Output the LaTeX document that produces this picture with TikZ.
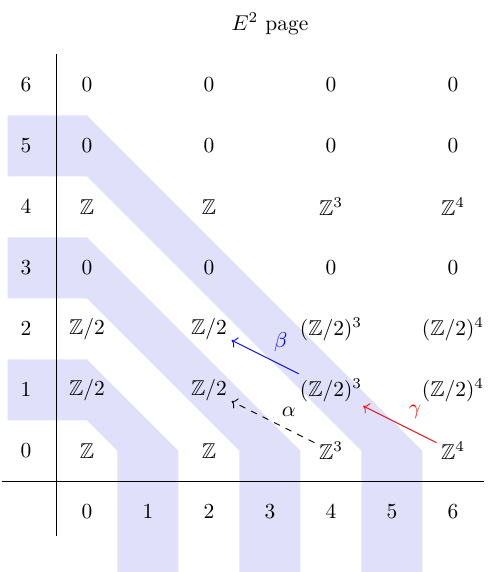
\documentclass[tikz,border=0pt]{standalone}
\usepackage{amssymb}
\usetikzlibrary{arrows.meta}
\definecolor{BandBlue}{RGB}{224,224,250}
\tikzset{
  entry/.style={inner sep=2pt},
  axislabel/.style={inner sep=2pt},
  band/.style={fill=BandBlue,draw=none},
  diff/.style={->,thin},
  difflabel/.style={above right,inner sep=2.5pt,xshift=1.5pt}
}

\begin{document}
\begin{tikzpicture}
  \useasboundingbox (-1.426,-1.984) rectangle (6.59,7.393);
  % shaded bands
  \foreach \r in {1,3,5}
    \fill[band] (-1.3,\r+0.5) -- (0,\r+0.5) -- (\r+0.5,0) -- (\r+0.5,-2)
      -- (\r-0.5,-2) -- (\r-0.5,0) -- (0,\r-0.5) -- (-1.3,\r-0.5) -- cycle;
  % axes
  \draw (-0.5,-1.4) -- (-0.5,6.5);
  \draw (-1.4,-0.5) -- (6.5,-0.5);
  \foreach \i in {0,...,6} {
    \node[axislabel] (row\i) at (-1,\i) {$\i$};
    \node[axislabel] (col\i) at (\i,-1) {$\i$};
  }
  \node (title) at (3,7) {$E^2$ page};
  % row 6
  \node[entry] (e06) at (0,6) {$0$};
  \node[entry] (e26) at (2,6) {$0$};
  \node[entry] (e46) at (4,6) {$0$};
  \node[entry] (e66) at (6,6) {$0$};
  % row 5
  \node[entry] (e05) at (0,5) {$0$};
  \node[entry] (e25) at (2,5) {$0$};
  \node[entry] (e45) at (4,5) {$0$};
  \node[entry] (e65) at (6,5) {$0$};
  % row 4
  \node[entry] (e04) at (0,4) {$\mathbb{Z}$};
  \node[entry] (e24) at (2,4) {$\mathbb{Z}$};
  \node[entry] (e44) at (4,4) {$\mathbb{Z}^3$};
  \node[entry] (e64) at (6,4) {$\mathbb{Z}^4$};
  % row 3
  \node[entry] (e03) at (0,3) {$0$};
  \node[entry] (e23) at (2,3) {$0$};
  \node[entry] (e43) at (4,3) {$0$};
  \node[entry] (e63) at (6,3) {$0$};
  % row 2
  \node[entry] (e02) at (0,2) {$\mathbb{Z}/2$};
  \node[entry] (e22) at (2,2) {$\mathbb{Z}/2$};
  \node[entry] (e42) at (4,2) {$(\mathbb{Z}/2)^3$};
  \node[entry] (e62) at (6,2) {$(\mathbb{Z}/2)^4$};
  % row 1
  \node[entry] (e01) at (0,1) {$\mathbb{Z}/2$};
  \node[entry] (e21) at (2,1) {$\mathbb{Z}/2$};
  \node[entry] (e41) at (4,1) {$(\mathbb{Z}/2)^3$};
  \node[entry] (e61) at (6,1) {$(\mathbb{Z}/2)^4$};
  % row 0
  \node[entry] (e00) at (0,0) {$\mathbb{Z}$};
  \node[entry] (e20) at (2,0) {$\mathbb{Z}$};
  \node[entry] (e40) at (4,0) {$\mathbb{Z}^3$};
  \node[entry] (e60) at (6,0) {$\mathbb{Z}^4$};
  % differentials
  \draw[diff,dashed] (e40) -- node[difflabel] {$\alpha$} (e21);
  \draw[diff,blue] (e41) -- node[difflabel] {$\beta$} (e22);
  \draw[diff,red] (e60) -- node[difflabel] {$\gamma$} (e41);
\end{tikzpicture}
\end{document}
